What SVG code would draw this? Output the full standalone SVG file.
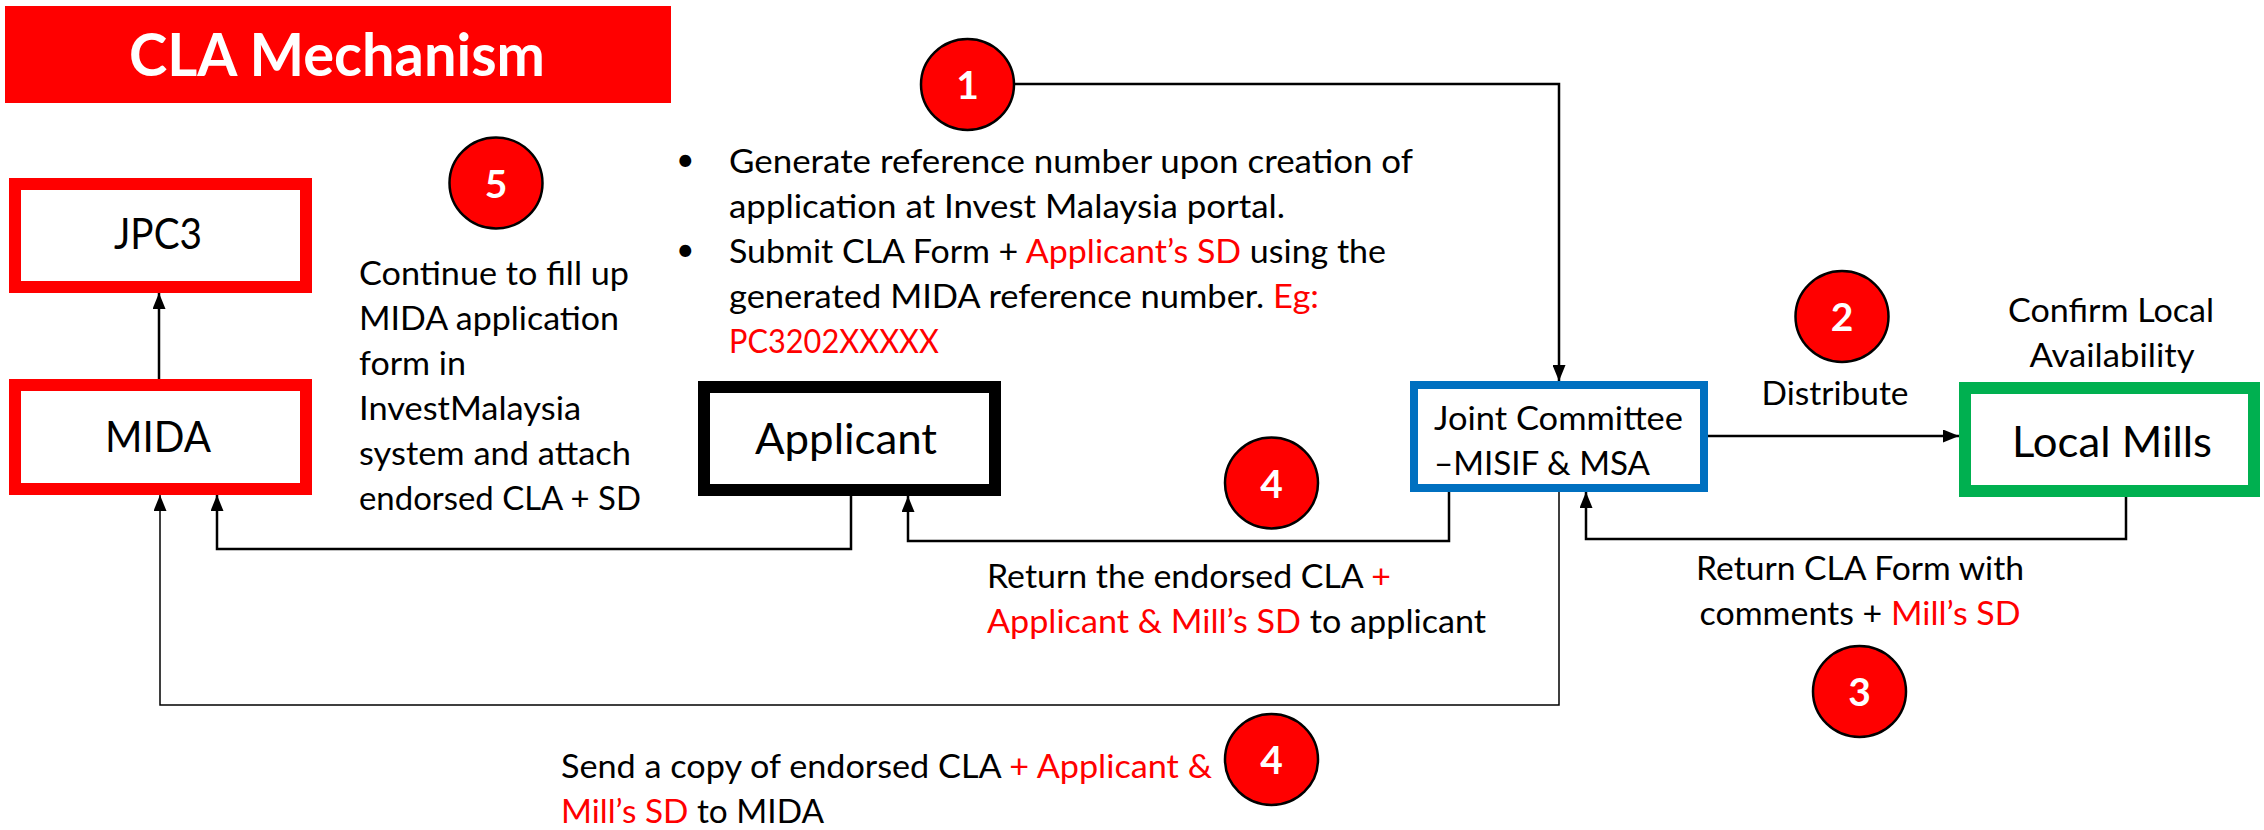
<svg xmlns="http://www.w3.org/2000/svg" width="2264" height="830" viewBox="0 0 2264 830">
<defs>
<style>
.t{font-family:Lato,"Liberation Sans",sans-serif;font-size:32px;fill:#000}
.big{font-family:Lato,"Liberation Sans",sans-serif;font-size:42px;fill:#000;text-anchor:middle}
.r{fill:#FF0000}
.num{font-family:Lato,"Liberation Sans",sans-serif;font-weight:bold;font-size:39px;fill:#fff;text-anchor:middle}
.badge{fill:#FF0000;stroke:#000;stroke-width:2.5}
.c{fill:none;stroke:#000;stroke-width:2.5}
.thin{fill:none;stroke:#000;stroke-width:1.5}
.box{fill:#fff;stroke-width:12}
</style>
<marker id="ah" markerUnits="userSpaceOnUse" markerWidth="16" markerHeight="13" refX="16" refY="6.5" orient="auto">
<path d="M0,0 L16,6.5 L0,13 z" fill="#000"/>
</marker>
</defs>
<rect width="2264" height="830" fill="#fff"/>

<g id="title">
<rect x="5" y="6" width="666" height="97" fill="#FF0000"/>
<text x="337" y="76" font-family="Lato,'Liberation Sans',sans-serif" font-weight="bold" font-size="59" fill="#fff" text-anchor="middle" textLength="416" lengthAdjust="spacingAndGlyphs">CLA Mechanism</text>
</g>

<g id="connectors">
<path class="c" d="M1014,84 H1559 V381" marker-end="url(#ah)"/>
<path class="c" d="M1708,436 H1959" marker-end="url(#ah)"/>
<path class="c" d="M2126,497 V539 H1586 V492" marker-end="url(#ah)"/>
<path class="c" d="M1449,492 V541 H908 V496" marker-end="url(#ah)"/>
<path class="c" d="M851,496 V549 H217 V495" marker-end="url(#ah)"/>
<path class="thin" d="M1559,492 V705 H160 V495" marker-end="url(#ah)"/>
<path class="c" d="M159,379 V293" marker-end="url(#ah)"/>
</g>

<g id="jpc3">
<rect class="box" x="15" y="184" width="291" height="103" stroke="#FF0000"/>
<text class="big" x="158" y="249" textLength="88" lengthAdjust="spacingAndGlyphs">JPC3</text>
</g>

<g id="mida">
<rect class="box" x="15" y="385" width="291" height="104" stroke="#FF0000"/>
<text class="big" x="158" y="452" textLength="106" lengthAdjust="spacingAndGlyphs">MIDA</text>
</g>

<g id="applicant">
<rect class="box" x="704" y="387" width="291" height="103" stroke="#000"/>
<text class="big" x="846" y="454" textLength="182" lengthAdjust="spacingAndGlyphs">Applicant</text>
</g>

<g id="joint-committee">
<rect x="1414" y="385" width="290" height="103" fill="#fff" stroke="#0070C0" stroke-width="8"/>
<text class="t" x="1434" y="430" textLength="249" lengthAdjust="spacingAndGlyphs">Joint Committee</text>
<text class="t" x="1434" y="475" textLength="216" lengthAdjust="spacingAndGlyphs">–MISIF &amp; MSA</text>
</g>

<g id="local-mills">
<rect class="box" x="1965" y="388" width="289" height="103" stroke="#00B050"/>
<text class="big" x="2112" y="457" textLength="200" lengthAdjust="spacingAndGlyphs">Local Mills</text>
</g>

<g id="step1">
<ellipse class="badge" cx="967.5" cy="84.5" rx="46.5" ry="45.5"/>
<text class="num" x="967.5" y="99">1</text>
<text class="t" x="676" y="171" font-size="28">•</text>
<text class="t" x="676" y="261" font-size="28">•</text>
<text class="t" x="729" y="173" textLength="684" lengthAdjust="spacingAndGlyphs">Generate reference number upon creation of</text>
<text class="t" x="729" y="218" textLength="556" lengthAdjust="spacingAndGlyphs">application at Invest Malaysia portal.</text>
<text class="t" x="729" y="263" textLength="657" lengthAdjust="spacingAndGlyphs">Submit CLA Form + <tspan class="r">Applicant’s SD</tspan> using the</text>
<text class="t" x="729" y="308" textLength="590" lengthAdjust="spacingAndGlyphs">generated MIDA reference number. <tspan class="r">Eg:</tspan></text>
<text class="t r" x="729" y="353" textLength="210" lengthAdjust="spacingAndGlyphs">PC3202XXXXX</text>
</g>

<g id="step2">
<ellipse class="badge" cx="1842" cy="316.5" rx="46.5" ry="45.5"/>
<text class="num" x="1842" y="331">2</text>
<text class="t" x="1835" y="405" text-anchor="middle" textLength="147" lengthAdjust="spacingAndGlyphs">Distribute</text>
<text class="t" x="2111" y="322" text-anchor="middle" textLength="206" lengthAdjust="spacingAndGlyphs">Confirm Local</text>
<text class="t" x="2112" y="367" text-anchor="middle" textLength="165" lengthAdjust="spacingAndGlyphs">Availability</text>
</g>

<g id="step3">
<text class="t" x="1860" y="580" text-anchor="middle" textLength="328" lengthAdjust="spacingAndGlyphs">Return CLA Form with</text>
<text class="t" x="1860" y="625" text-anchor="middle" textLength="321" lengthAdjust="spacingAndGlyphs">comments + <tspan class="r">Mill’s SD</tspan></text>
<ellipse class="badge" cx="1859.5" cy="691.5" rx="46.5" ry="45.5"/>
<text class="num" x="1859.5" y="706">3</text>
</g>

<g id="step4a">
<ellipse class="badge" cx="1271.5" cy="483" rx="46.5" ry="45.5"/>
<text class="num" x="1271.5" y="497.5">4</text>
<text class="t" x="987" y="588" textLength="404" lengthAdjust="spacingAndGlyphs">Return the endorsed CLA <tspan class="r">+</tspan></text>
<text class="t" x="987" y="633" textLength="499" lengthAdjust="spacingAndGlyphs"><tspan class="r">Applicant &amp; Mill’s SD</tspan> to applicant</text>
</g>

<g id="step4b">
<ellipse class="badge" cx="1271.5" cy="759.5" rx="46.5" ry="45.5"/>
<text class="num" x="1271.5" y="774">4</text>
<text class="t" x="561" y="778" textLength="651" lengthAdjust="spacingAndGlyphs">Send a copy of endorsed CLA <tspan class="r">+ Applicant &amp;</tspan></text>
<text class="t" x="561" y="823" textLength="263" lengthAdjust="spacingAndGlyphs"><tspan class="r">Mill’s SD</tspan> to MIDA</text>
</g>

<g id="step5">
<ellipse class="badge" cx="496" cy="183" rx="46.5" ry="45.5"/>
<text class="num" x="496" y="197.5">5</text>
<text class="t" x="359" y="285" textLength="270" lengthAdjust="spacingAndGlyphs">Continue to fill up</text>
<text class="t" x="359" y="330" textLength="260" lengthAdjust="spacingAndGlyphs">MIDA application</text>
<text class="t" x="359" y="375" textLength="107" lengthAdjust="spacingAndGlyphs">form in</text>
<text class="t" x="359" y="420" textLength="222" lengthAdjust="spacingAndGlyphs">InvestMalaysia</text>
<text class="t" x="359" y="465" textLength="272" lengthAdjust="spacingAndGlyphs">system and attach</text>
<text class="t" x="359" y="510" textLength="282" lengthAdjust="spacingAndGlyphs">endorsed CLA + SD</text>
</g>
</svg>
